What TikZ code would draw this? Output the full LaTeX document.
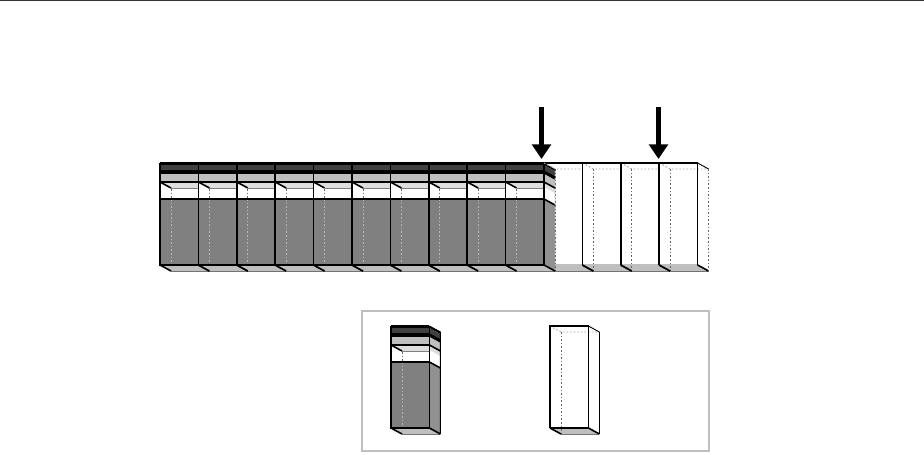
\documentclass[tikz,border=0pt]{standalone}
\usepackage{amsmath, amssymb, amsthm}
\usetikzlibrary{positioning, arrows.meta}

\definecolor{banddark}{gray}{0.25}
\definecolor{bandlight}{gray}{0.75}
\definecolor{bandpale}{gray}{0.87}
\definecolor{bandmid}{gray}{0.5}
\definecolor{sidemid}{gray}{0.57}

\tikzset{
	cellline/.style={black, line width=1.2},
	backline/.style={dash pattern=on 1.2pt off 1.5pt, black!60, line width=0.7},
	backgrey/.style={dash pattern=on 1.2pt off 1.5pt, gray!55, line width=0.7},
	backfaint/.style={dash pattern=on 1.2pt off 1.5pt, gray!70, line width=0.7},
	flooredge/.style={black!55, line width=0.7},
	bigarrow/.style={line width=3.5, -{Triangle[width=14, length=11]}},
	bottomline/.style={cellline},
	sideline/.style={black, line width=0.7},
	% 装满的柜子
	fullcell/.pic={
		\fill[bandlight] (0,102) -- (38.4,102) -- (49.4,108) -- (11,108) -- cycle;
		\draw[flooredge] (11,108) -- (49.4,108);
		\foreach \a/\b/\c in {0/2/black, 2/7/banddark, 7/11/black, 11/19/bandlight, 19/36/white, 36/102/bandmid}
			\fill[\c] (0,\a) rectangle (38.4,\b);
		\foreach \a/\b/\c in {0/2/black, 2/7/banddark, 7/11/black, 11/19/bandlight, 19/36/white, 36/102/sidemid}
			\fill[\c] (38.4,\a) -- (49.4,\a+6) -- (49.4,\b+6) -- (38.4,\b) -- cycle;
		\fill[bandpale] (0,19) -- (38.4,19) -- (49.4,25) -- (11,25) -- cycle;
		\fill[bandpale] (38.4,19) -- (49.4,25) -- (49.4,30) -- (38.4,24) -- cycle;
		\fill[gray] (11,24.5) rectangle (38.4,26);
		\draw[backline] (11,26) -- (11,36);
		\draw[backgrey] (11,36) -- (11,108);
		\draw[cellline] (0,0) -- (38.4,0) (0,19) -- (38.4,19) (0,36) -- (38.4,36);
		\draw[cellline] (0,0) -- (0,102) -- (38.4,102) -- (38.4,0);
		\draw[cellline] (0,19) -- (11,25) (0,102) -- (11,108) (38.4,102) -- (49.4,108);
		\draw[cellline] (38.4,19) -- (49.4,25) (38.4,36) -- (49.4,42);
		\draw[sideline] (38.4,0) -- (49.4,6) -- (49.4,108);
	},
	% 空柜子
	emptycell/.pic={
		\fill[white] (0,0) -- (38.4,0) -- (49.4,6) -- (49.4,108) -- (38.4,102) -- (0,102) -- cycle;
		\fill[bandlight] (0,102) -- (38.4,102) -- (49.4,108) -- (11,108) -- cycle;
		\draw[flooredge] (11,108) -- (49.4,108);
		\draw[backfaint] (0,0) -- (11,6) -- (49.4,6);
		\draw[backline] (11,6) -- (11,108);
		\draw[bottomline] (0,102) -- (38.4,102);
		\draw[cellline] (0,102) -- (0,0) -- (38.4,0) -- (38.4,102);
		\draw[cellline] (0,102) -- (11,108) (38.4,102) -- (49.4,108);
		\draw[black, line width=0.7] (38.4,0) -- (49.4,6);
		\draw[sideline] (49.4,6) -- (49.4,108);
	}
}

\begin{document}
\begin{tikzpicture}[x=0.75pt, y=-0.75pt]
	\useasboundingbox (0,0) rectangle (924,454);
	
	% 顶部横线
	\draw[black!80, line width=0.8] (0,0.7) -- (924,0.7);
	
	% 上排 14 个柜子，先画空的
	\foreach \i in {10,...,13} \pic[bottomline/.style={bandlight, line width=1.1}, sideline/.style={backline}] at (160+38.4*\i,163) {emptycell};
	\foreach \i in {0,...,9} \pic[sideline/.style={backfaint}] at (160+38.4*\i,163) {fullcell};
	
	% 两个箭头
	\coordinate (arrowa top) at (541.5,107);
	\coordinate (arrowa tip) at (541.5,159);
	\coordinate (arrowb top) at (658.5,107);
	\coordinate (arrowb tip) at (658.5,159);
	\draw[bigarrow] (arrowa top) -- (arrowa tip);
	\draw[bigarrow] (arrowb top) -- (arrowb tip);
	
	% 图例
	\draw[bandlight, line width=1.5] (361.5,311) rectangle (709,451);
	\pic at (391,326) {fullcell};
	\pic at (550,326) {emptycell};
\end{tikzpicture}
\end{document}
